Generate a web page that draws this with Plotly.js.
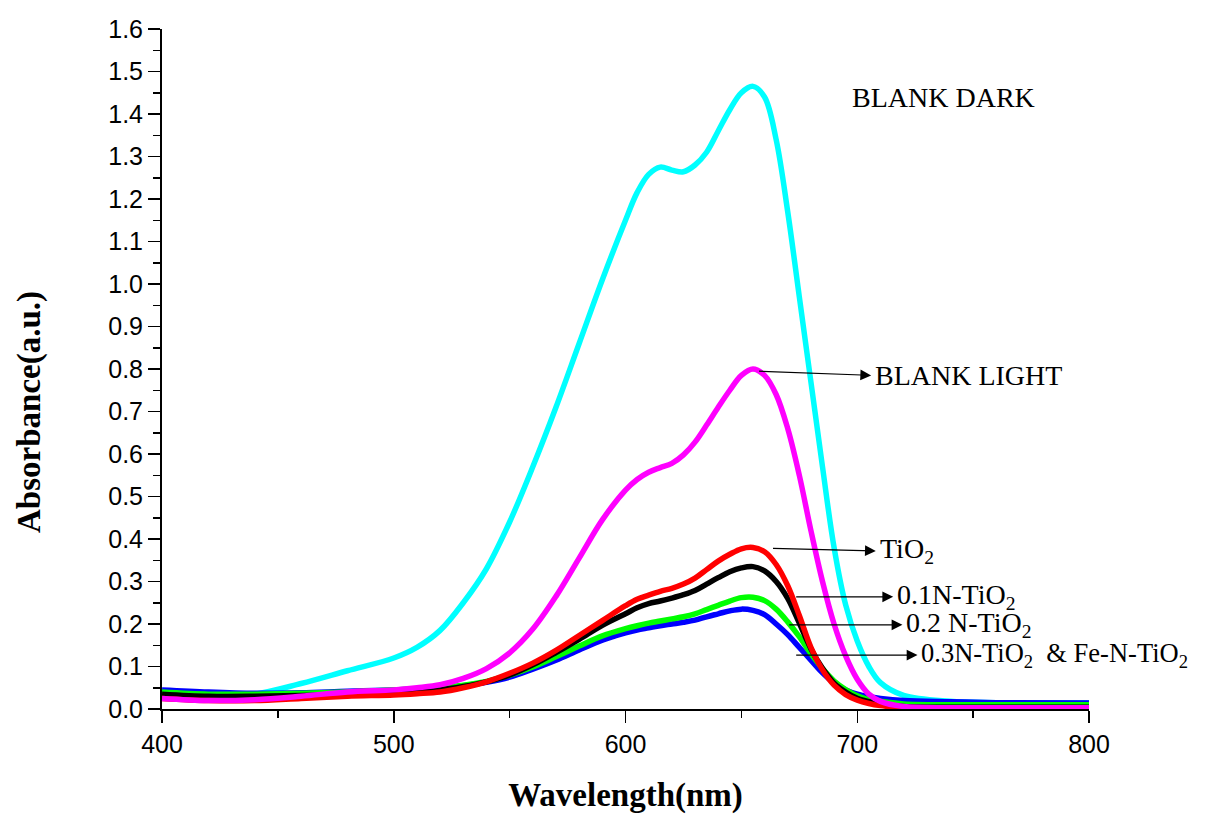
<!DOCTYPE html>
<html>
<head>
<meta charset="utf-8">
<script src="https://cdn.plot.ly/plotly-3.0.1.min.js"></script>
<style>html,body{margin:0;padding:0;background:#fff;}#chart{width:1206px;height:814px;}</style>
</head>
<body>
<div id="chart"></div>
<script>
// Wavelength grid (nm)
const wavelength = [400,420,440,460,480,500,510,520,530,540,550,560,570,580,590,600,605,610,615,620,625,630,635,640,645,650,655,660,665,670,675,680,685,690,695,700,705,710,720,740,760,800];

// Absorbance series (a.u.)
const blankDark  = [0.035,0.030,0.035,0.060,0.090,0.120,0.145,0.185,0.250,0.330,0.440,0.570,0.710,0.860,1.010,1.150,1.215,1.258,1.275,1.268,1.264,1.280,1.310,1.360,1.410,1.450,1.465,1.440,1.340,1.170,0.970,0.770,0.570,0.380,0.245,0.160,0.100,0.062,0.032,0.018,0.015,0.015];
const blankLight = [0.025,0.020,0.022,0.030,0.040,0.045,0.050,0.057,0.072,0.095,0.132,0.188,0.265,0.355,0.445,0.515,0.540,0.557,0.568,0.578,0.598,0.628,0.668,0.710,0.750,0.785,0.800,0.785,0.740,0.660,0.550,0.420,0.300,0.200,0.125,0.070,0.035,0.018,0.006,0.003,0.003,0.003];
const tio2       = [0.025,0.020,0.020,0.025,0.030,0.033,0.036,0.040,0.050,0.064,0.084,0.108,0.138,0.173,0.208,0.243,0.258,0.268,0.277,0.284,0.294,0.308,0.328,0.348,0.364,0.377,0.380,0.370,0.340,0.290,0.220,0.145,0.092,0.056,0.034,0.021,0.013,0.008,0.003,0.001,0.001,0.001];
const n01Tio2    = [0.035,0.030,0.030,0.032,0.035,0.040,0.042,0.045,0.053,0.064,0.080,0.104,0.133,0.164,0.197,0.224,0.238,0.248,0.254,0.261,0.269,0.279,0.294,0.309,0.323,0.332,0.335,0.325,0.300,0.260,0.202,0.142,0.096,0.061,0.040,0.025,0.017,0.012,0.006,0.004,0.004,0.004];
const n02Tio2    = [0.040,0.035,0.035,0.037,0.040,0.045,0.047,0.050,0.056,0.065,0.080,0.099,0.123,0.148,0.172,0.189,0.196,0.202,0.207,0.212,0.217,0.224,0.234,0.244,0.254,0.262,0.263,0.255,0.235,0.205,0.170,0.130,0.095,0.066,0.046,0.031,0.022,0.018,0.012,0.010,0.010,0.010];
const n03FeTio2  = [0.045,0.040,0.037,0.038,0.042,0.045,0.047,0.050,0.055,0.063,0.075,0.094,0.115,0.139,0.162,0.179,0.186,0.191,0.196,0.200,0.204,0.209,0.217,0.224,0.231,0.235,0.232,0.222,0.200,0.175,0.145,0.115,0.085,0.061,0.045,0.035,0.029,0.025,0.020,0.017,0.015,0.014];

const seriesNames = ["BLANK DARK","BLANK LIGHT","TiO2","0.1N-TiO2","0.2 N-TiO2","0.3N-TiO2 & Fe-N-TiO2"];
const seriesColors = ["#00FFFF","#FF00FF","#FF0000","#000000","#00FF00","#0000FF"];
const seriesData = [blankDark, blankLight, tio2, n01Tio2, n02Tio2, n03FeTio2];
const drawOrder = [0, 5, 4, 3, 2, 1];

// Label annotations: [label, tail wavelength, tail absorbance, head wavelength, head absorbance, font size]
const arrowLabels = [
  ["BLANK LIGHT", 657, 0.795, 706, 0.785, 28],
  ["TiO<sub>2</sub>", 663, 0.378, 708, 0.372, 28],
  ["0.1N-TiO<sub>2</sub>", 673, 0.264, 715.5, 0.264, 28],
  ["0.2 N-TiO<sub>2</sub>", 670, 0.198, 719.5, 0.198, 28],
  ["0.3N-TiO<sub>2</sub>  &amp; Fe-N-TiO<sub>2</sub>", 673, 0.127, 726, 0.127, 26.5]
];
const darkLabel = ["BLANK DARK", 697, 1.44];

const traces = drawOrder.map(i => ({
  x: wavelength, y: seriesData[i], type: "scatter", mode: "lines", name: seriesNames[i],
  line: {color: seriesColors[i], width: 5.5, shape: "spline", smoothing: 1}
}));

const serif = "Liberation Serif, Times New Roman, serif";
const annotations = [{
  x: darkLabel[1], y: darkLabel[2], xref: "x", yref: "y", text: darkLabel[0], showarrow: false,
  xanchor: "left", yanchor: "middle", font: {family: serif, size: 28, color: "#000"}
}, {
  x: -0.1424, y: 0.4368, xref: "paper", yref: "paper", text: "<b>Absorbance(a.u.)</b>", showarrow: false,
  textangle: -90, xanchor: "center", yanchor: "middle", font: {family: serif, size: 33, color: "#000"}
}];
arrowLabels.forEach(a => {
  annotations.push({
    x: a[3], y: a[4], ax: a[1], ay: a[2], xref: "x", yref: "y", axref: "x", ayref: "y",
    text: "", showarrow: true, arrowhead: 2, arrowsize: 1.8, arrowwidth: 1.2, arrowcolor: "#000", standoff: 0, startstandoff: 0
  });
  annotations.push({
    x: a[3] + 0.8, y: a[4], xref: "x", yref: "y", text: a[0], showarrow: false,
    xanchor: "left", yanchor: "middle", font: {family: serif, size: a[5], color: "#000"}
  });
});

const layout = {
  width: 1206, height: 814,
  margin: {l: 162, r: 117, t: 29, b: 105},
  paper_bgcolor: "#fff", plot_bgcolor: "#fff",
  showlegend: false,
  xaxis: {
    range: [400, 800], tickmode: "linear", tick0: 400, dtick: 100,
    ticks: "outside", ticklen: 12, tickwidth: 1.5, tickcolor: "#000",
    minor: {tickmode: "linear", tick0: 400, dtick: 50, ticks: "outside", ticklen: 7, tickwidth: 1.5, tickcolor: "#000", showgrid: false},
    showline: true, linecolor: "#000", linewidth: 2, mirror: false,
    showgrid: false, zeroline: false,
    tickfont: {family: "Liberation Sans, Arial, sans-serif", size: 25, color: "#000"},
    title: {text: "<b>Wavelength(nm)</b>", font: {family: serif, size: 33, color: "#000"}, standoff: 26}
  },
  yaxis: {
    range: [0, 1.6], tickmode: "linear", tick0: 0, dtick: 0.1, tickformat: ".1f",
    ticks: "outside", ticklen: 12, tickwidth: 1.5, tickcolor: "#000",
    minor: {tickmode: "linear", tick0: 0, dtick: 0.05, ticks: "outside", ticklen: 7, tickwidth: 1.5, tickcolor: "#000", showgrid: false},
    showline: true, linecolor: "#000", linewidth: 2, mirror: false,
    showgrid: false, zeroline: false,
    tickfont: {family: "Liberation Sans, Arial, sans-serif", size: 25, color: "#000"}
  },
  annotations: annotations
};

Plotly.newPlot("chart", traces, layout, {displayModeBar: false, staticPlot: true});
</script>
</body>
</html>
